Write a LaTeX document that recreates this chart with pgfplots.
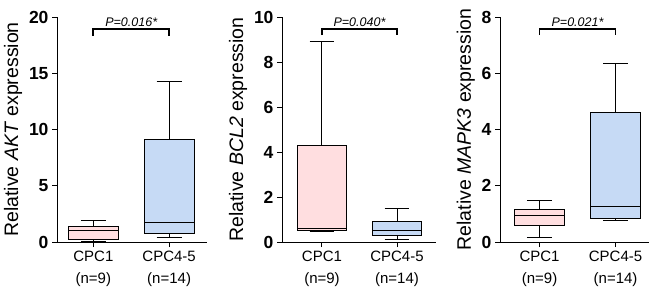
\documentclass[border=0pt]{standalone}
\usepackage{pgfplots}
\pgfplotsset{compat=1.18}
\usepgfplotslibrary{statistics}
\usepackage{fontspec}
\setmainfont{Liberation Sans}
\definecolor{pinkf}{RGB}{255,222,224}
\definecolor{bluef}{RGB}{198,218,245}
\tikzset{ptxt/.style={font=\fontsize{12.5}{14}\selectfont\itshape, anchor=base}}
\pgfplotsset{
 panel/.style={
  scale only axis, axis lines=left, axis line style={-, line width=1pt},
  height=225pt, ymin=0, anchor=south west,
  tick align=outside, major tick length=5pt, tick style={line width=1pt, black},
  xtick={1,2}, xticklabels={CPC1\\(n=9), CPC4-5\\(n=14)},
  xticklabel style={align=center, font=\fontsize{15}{22}\selectfont},
  yticklabel style={font=\fontsize{17.5}{20}\selectfont\bfseries},
  /pgf/number format/assume math mode=true,
  ylabel style={font=\fontsize{19.5}{22}\selectfont},
  clip=false,
  boxplot/draw direction=y,
 },
 bx/.style={draw=black, line width=1pt, fill=#1, solid, mark=none},
 br/.style={black, line width=1.8pt, mark=none},
}
\begin{document}
\begin{tikzpicture}
\useasboundingbox (0,0) rectangle (660pt,298pt);
% Panel 1: AKT
\begin{axis}[panel, at={(57pt,56pt)}, width=150pt, xmin=0.52, xmax=2.50,
  ymax=20, ytick={0,5,10,15,20}, ylabel={Relative \textit{AKT} expression}]
\addplot[bx=pinkf, boxplot prepared={draw position=1, lower whisker=0.05, lower quartile=0.2,
  median=1.0, upper quartile=1.42, upper whisker=1.92, box extend=0.66, whisker extend=0.33}]
  coordinates {};
\addplot[bx=bluef, boxplot prepared={draw position=2, lower whisker=0.44, lower quartile=0.74,
  median=1.76, upper quartile=9.15, upper whisker=14.3, box extend=0.66, whisker extend=0.33}]
  coordinates {};
\addplot[br] coordinates {(1,18.35) (1,18.95) (2,18.95) (2,18.35)};
\node[ptxt] at (axis cs:1.5,19.2) {P=0.016*};
\end{axis}
% Panel 2: BCL2
\begin{axis}[panel, at={(282pt,56pt)}, width=154pt, xmin=0.467, xmax=2.52,
  ymax=10, ytick={0,2,4,6,8,10}, ylabel={Relative \textit{BCL2} expression}]
\addplot[bx=pinkf, boxplot prepared={draw position=1, lower whisker=0.47, lower quartile=0.53,
  median=0.61, upper quartile=4.27, upper whisker=8.93, box extend=0.66, whisker extend=0.33}]
  coordinates {};
\addplot[bx=bluef, boxplot prepared={draw position=2, lower whisker=0.12, lower quartile=0.27,
  median=0.52, upper quartile=0.9, upper whisker=1.5, box extend=0.66, whisker extend=0.33}]
  coordinates {};
\addplot[br] coordinates {(1,9.2) (1,9.47) (2,9.47) (2,9.2)};
\node[ptxt] at (axis cs:1.5,9.6) {P=0.040*};
\end{axis}
% Panel 3: MAPK3
\begin{axis}[panel, at={(500pt,56pt)}, width=149pt, xmin=0.48, xmax=2.44,
  ymax=8, ytick={0,2,4,6,8}, ylabel={Relative \textit{MAPK3} expression}]
\addplot[bx=pinkf, boxplot prepared={draw position=1, lower whisker=0.17, lower quartile=0.6,
  median=0.96, upper quartile=1.16, upper whisker=1.47, box extend=0.66, whisker extend=0.33}]
  coordinates {};
\addplot[bx=bluef, boxplot prepared={draw position=2, lower whisker=0.78, lower quartile=0.84,
  median=1.28, upper quartile=4.62, upper whisker=6.33, box extend=0.66, whisker extend=0.33}]
  coordinates {};
\addplot[br] coordinates {(1,7.36) (1,7.57) (2,7.57) (2,7.36)};
\node[ptxt] at (axis cs:1.5,7.67) {P=0.021*};
\end{axis}
\end{tikzpicture}
\end{document}
